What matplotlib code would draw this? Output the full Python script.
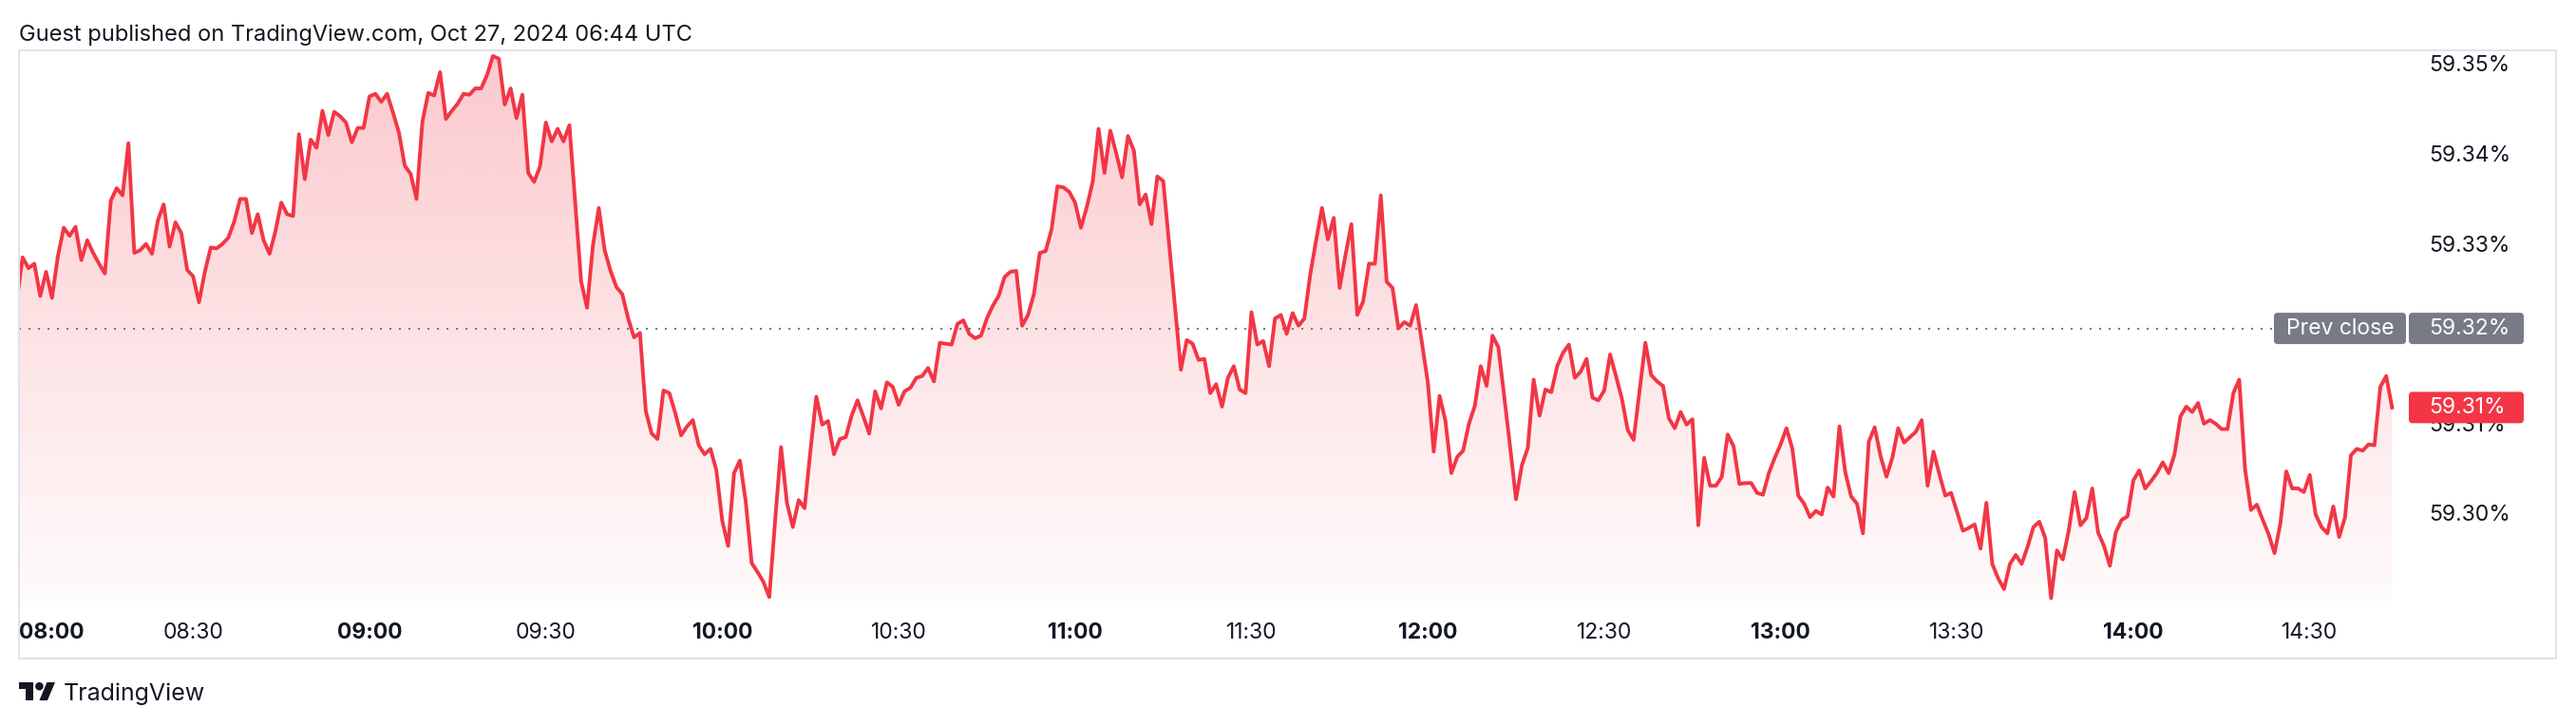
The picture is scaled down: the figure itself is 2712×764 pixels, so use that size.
import numpy as np
import matplotlib
matplotlib.use("Agg")
import matplotlib.pyplot as plt
from matplotlib.patches import Polygon, Rectangle, FancyBboxPatch
from matplotlib.transforms import blended_transform_factory
from matplotlib.colors import to_rgb

plt.rcParams['font.family'] = ['Inter', 'DejaVu Sans']

# 1-minute yield prints (%) starting 08:00
yields = [
    59.3238, 59.3287, 59.3275, 59.3280, 59.3244, 59.3271, 59.3242, 59.3288, 59.3320, 59.3311,
    59.3321, 59.3284, 59.3306, 59.3292, 59.3280, 59.3269, 59.3350, 59.3364, 59.3356, 59.3414,
    59.3292, 59.3295, 59.3302, 59.3291, 59.3328, 59.3346, 59.3299, 59.3326, 59.3314, 59.3273,
    59.3266, 59.3237, 59.3271, 59.3298, 59.3297, 59.3302, 59.3309, 59.3327, 59.3352, 59.3352,
    59.3314, 59.3335, 59.3306, 59.3291, 59.3316, 59.3348, 59.3335, 59.3333, 59.3424, 59.3374,
    59.3418, 59.3409, 59.3450, 59.3423, 59.3449, 59.3444, 59.3437, 59.3415, 59.3431, 59.3431,
    59.3466, 59.3469, 59.3460, 59.3469, 59.3448, 59.3426, 59.3389, 59.3380, 59.3352, 59.3438,
    59.3470, 59.3467, 59.3493, 59.3441, 59.3450, 59.3458, 59.3469, 59.3468, 59.3475, 59.3475,
    59.3490, 59.3511, 59.3508, 59.3457, 59.3475, 59.3442, 59.3468, 59.3381, 59.3371, 59.3388,
    59.3437, 59.3416, 59.3430, 59.3416, 59.3434, 59.3347, 59.3260, 59.3231, 59.3300, 59.3342,
    59.3295, 59.3272, 59.3254, 59.3246, 59.3219, 59.3198, 59.3203, 59.3116, 59.3091, 59.3085,
    59.3139, 59.3136, 59.3114, 59.3089, 59.3099, 59.3106, 59.3078, 59.3068, 59.3074, 59.3050,
    59.2994, 59.2966, 59.3047, 59.3061, 59.3015, 59.2947, 59.2937, 59.2926, 59.2909, 59.2995,
    59.3076, 59.3014, 59.2987, 59.3017, 59.3008, 59.3072, 59.3132, 59.3101, 59.3105, 59.3068,
    59.3085, 59.3087, 59.3111, 59.3128, 59.3110, 59.3091, 59.3138, 59.3119, 59.3148, 59.3143,
    59.3123, 59.3138, 59.3142, 59.3153, 59.3155, 59.3164, 59.3149, 59.3192, 59.3191, 59.3190,
    59.3213, 59.3217, 59.3202, 59.3197, 59.3200, 59.3219, 59.3233, 59.3244, 59.3265, 59.3271,
    59.3272, 59.3211, 59.3223, 59.3246, 59.3292, 59.3294, 59.3318, 59.3366, 59.3365, 59.3360,
    59.3348, 59.3320, 59.3343, 59.3371, 59.3430, 59.3381, 59.3428, 59.3403, 59.3376, 59.3422,
    59.3406, 59.3346, 59.3357, 59.3324, 59.3377, 59.3372, 59.3302, 59.3231, 59.3162, 59.3195,
    59.3191, 59.3173, 59.3174, 59.3136, 59.3146, 59.3121, 59.3153, 59.3166, 59.3140, 59.3136,
    59.3226, 59.3190, 59.3194, 59.3166, 59.3219, 59.3223, 59.3202, 59.3225, 59.3211, 59.3219,
    59.3268, 59.3306, 59.3342, 59.3307, 59.3331, 59.3253, 59.3290, 59.3324, 59.3223, 59.3238,
    59.3280, 59.3280, 59.3356, 59.3260, 59.3253, 59.3208, 59.3215, 59.3211, 59.3234, 59.3192,
    59.3148, 59.3071, 59.3133, 59.3105, 59.3047, 59.3065, 59.3072, 59.3102, 59.3122, 59.3166,
    59.3144, 59.3200, 59.3187, 59.3132, 59.3076, 59.3018, 59.3056, 59.3075, 59.3151, 59.3111,
    59.3140, 59.3137, 59.3166, 59.3181, 59.3190, 59.3153, 59.3160, 59.3174, 59.3131, 59.3128,
    59.3139, 59.3179, 59.3155, 59.3130, 59.3095, 59.3084, 59.3138, 59.3192, 59.3156, 59.3149,
    59.3144, 59.3108, 59.3097, 59.3115, 59.3101, 59.3107, 59.2989, 59.3064, 59.3033, 59.3033,
    59.3043, 59.3090, 59.3077, 59.3035, 59.3036, 59.3036, 59.3025, 59.3023, 59.3047, 59.3064,
    59.3079, 59.3097, 59.3074, 59.3022, 59.3013, 59.2998, 59.3005, 59.3001, 59.3031, 59.3021,
    59.3099, 59.3048, 59.3021, 59.3013, 59.2980, 59.3082, 59.3098, 59.3066, 59.3043, 59.3064,
    59.3097, 59.3081, 59.3087, 59.3093, 59.3106, 59.3033, 59.3071, 59.3046, 59.3022, 59.3025,
    59.3004, 59.2983, 59.2986, 59.2990, 59.2963, 59.3014, 59.2946, 59.2930, 59.2918, 59.2946,
    59.2956, 59.2946, 59.2965, 59.2987, 59.2993, 59.2975, 59.2908, 59.2961, 59.2951, 59.2983,
    59.3026, 59.2989, 59.2997, 59.3030, 59.2981, 59.2966, 59.2944, 59.2981, 59.2995, 59.2999,
    59.3039, 59.3050, 59.3030, 59.3038, 59.3047, 59.3059, 59.3047, 59.3068, 59.3110, 59.3121,
    59.3115, 59.3125, 59.3102, 59.3106, 59.3102, 59.3096, 59.3096, 59.3136, 59.3151, 59.3051,
    59.3006, 59.3012, 59.2995, 59.2979, 59.2958, 59.2991, 59.3049, 59.3030, 59.3030, 59.3026,
    59.3045, 59.3001, 59.2987, 59.2980, 59.3010, 59.2976, 59.2998, 59.3067, 59.3074, 59.3072,
    59.3079, 59.3078, 59.3143, 59.3155, 59.3120,
]
minutes = np.arange(len(yields))  # minutes after 08:00

time_ticks = [0, 30, 60, 90, 120, 150, 180, 210, 240, 270, 300, 330, 360, 390]
time_labels = ['08:00', '08:30', '09:00', '09:30', '10:00', '10:30', '11:00',
               '11:30', '12:00', '12:30', '13:00', '13:30', '14:00', '14:30']
# 59.32% sits under the prev-close badge, so it is not listed
price_ticks = [59.35, 59.34, 59.33, 59.31, 59.30]
prev_close = 59.3208

RED = '#f23645'
GREY = '#787b86'
INK = '#131722'
W, H = 2712, 764

fig = plt.figure(figsize=(W / 100, H / 100), dpi=100, facecolor='white')

def px_box(x0, y0, x1, y1):
    return [x0 / W, 1 - y1 / H, (x1 - x0) / W, (y1 - y0) / H]

ax = fig.add_axes(px_box(20, 53, 2545, 633))
ax.set_xlim(0.39, 408.3)
ax.set_ylim(59.29042, 59.35173)
ax.axis('off')

# overlay in pixel coordinates for frame / labels / badges
ov = fig.add_axes([0, 0, 1, 1], zorder=5)
ov.set_xlim(0, W)
ov.set_ylim(H, 0)
ov.axis('off')
ov.set_facecolor('none')

# gradient area under the line
ylo, yhi = ax.get_ylim()
rgb = to_rgb(RED)
grad = np.zeros((256, 1, 4))
grad[..., :3] = rgb
grad[:, 0, 3] = np.linspace(0.27, 0.02, 256)
verts = [(minutes[0], ylo)] + list(zip(minutes, yields)) + [(minutes[-1], ylo)]
clip = Polygon(verts, closed=True, facecolor='none', edgecolor='none')
ax.add_patch(clip)
im = ax.imshow(grad, extent=[minutes[0], minutes[-1], ylo, yhi], aspect='auto',
               origin='upper', zorder=1, interpolation='bilinear')
im.set_clip_path(clip)

ax.plot(minutes, yields, color=RED, lw=2.8, zorder=3, solid_joinstyle='round')
ax.axhline(prev_close, color=GREY, lw=1.5, ls=(0, (1, 3.8)), dash_capstyle='butt', zorder=2)

# outer frame
ov.add_patch(Rectangle((20, 53), 2671, 640, fill=False, ec='#e0e3eb', lw=1.5, zorder=1))

# title
ov.text(20, 43, 'Guest published on TradingView.com, Oct 27, 2024 06:44 UTC',
        fontsize=17, color=INK, ha='left', va='baseline')

# time axis labels
tx = blended_transform_factory(ax.transData, ov.transData)
for m, lab in zip(time_ticks, time_labels):
    bold = lab.endswith(':00')
    if m < ax.get_xlim()[0]:
        ov.text(ax.get_xlim()[0], 666, lab, transform=tx, ha='left', va='center',
                fontsize=16.5, color=INK, fontweight='bold')
    else:
        ov.text(m, 666, lab, transform=tx, ha='center', va='center', fontsize=16.5,
                color=INK, fontweight='bold' if bold else 'normal')

# price axis labels
ty = blended_transform_factory(ov.transData, ax.transData)
for v in price_ticks:
    ov.text(2557, v, f'{v:.2f}%', transform=ty, ha='left', va='center',
            fontsize=16.5, color=INK, zorder=2)

def ypix(v):
    return H - ax.transData.transform((0, v))[1]

# prev close badge
yc = ypix(prev_close)
for x0, x1 in [(2394, 2533), (2536, 2657)]:
    ov.add_patch(FancyBboxPatch((x0, yc - 16.5), x1 - x0, 33,
                                boxstyle='round,pad=0,rounding_size=4',
                                fc=GREY, ec='none', zorder=3))
ov.text(2463.5, yc, 'Prev close', ha='center', va='center', fontsize=16.5,
        color='white', zorder=4)
ov.text(2557, yc, f'{prev_close:.2f}%', ha='left', va='center', fontsize=16.5,
        color='white', zorder=4)

# last value badge
yl = ypix(yields[-1])
ov.add_patch(FancyBboxPatch((2536, yl - 16.5), 121, 33,
                            boxstyle='round,pad=0,rounding_size=4',
                            fc=RED, ec='none', zorder=3))
ov.text(2557, yl, f'{yields[-1]:.2f}%', ha='left', va='center', fontsize=16.5,
        color='white', zorder=4)

# TradingView logo
def lp(u, v):
    return (20 + u * 1.07, 718 + (v - 4) * 1.06)

ov.add_patch(Polygon([lp(14, 22), lp(7, 22), lp(7, 11), lp(0, 11), lp(0, 4), lp(14, 4)],
                     closed=True, fc=INK, ec='none'))
ov.add_patch(Polygon([lp(28, 22), lp(20, 22), lp(27.5, 4), lp(35.5, 4)],
                     closed=True, fc=INK, ec='none'))
cx, cy = lp(20, 8)
ov.add_patch(plt.Circle((cx, cy), 4 * 1.065, fc=INK, ec='none'))
ov.text(67, 737, 'TradingView', fontsize=18, color=INK, ha='left', va='baseline')

fig.savefig('out.png', dpi=100, facecolor='white')
